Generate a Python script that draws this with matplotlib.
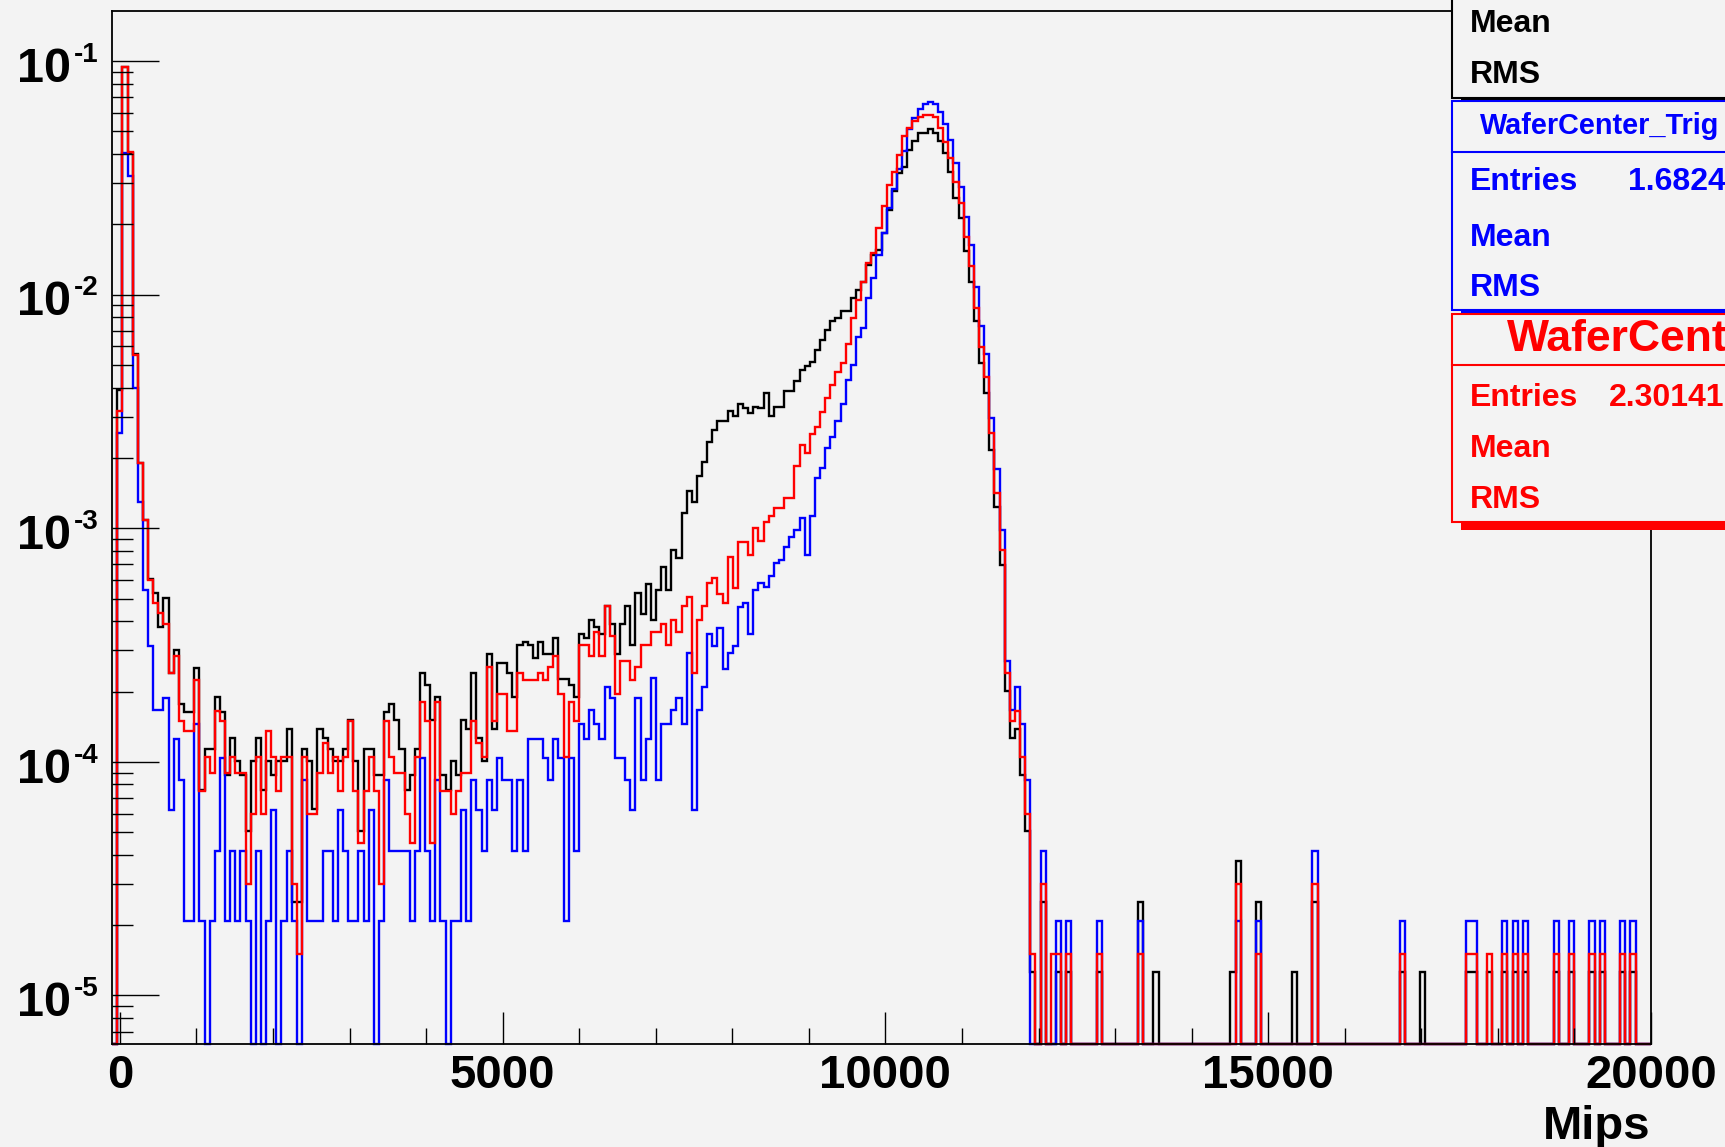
import numpy as np
import matplotlib
matplotlib.use("Agg")
import matplotlib.pyplot as plt
from matplotlib.patches import Rectangle
from matplotlib.ticker import FixedLocator, LogLocator, NullFormatter

plt.rcParams['font.family'] = ['Liberation Sans', 'DejaVu Sans']

# histogram binning: 300 bins from -100 to 20000 Mips
x_lo, x_hi, n_bins = -100, 20000, 300

# entries per bin (20 bins per row)
all_counts = [
    0, 311, 7490, 3190, 441, 151, 86, 48, 42, 30, 40, 19, 24, 14, 13, 13, 20, 6, 9, 9,
    15, 13, 7, 10, 8, 7, 4, 8, 10, 6, 8, 7, 8, 8, 11, 2, 2, 9, 8, 5,
    11, 10, 9, 8, 8, 9, 12, 8, 4, 9, 9, 7, 7, 13, 14, 12, 9, 6, 7, 9,
    19, 17, 12, 15, 7, 6, 8, 7, 12, 11, 19, 10, 8, 23, 11, 21, 21, 19, 15, 25,
    26, 25, 22, 26, 23, 23, 27, 18, 18, 17, 15, 28, 27, 32, 30, 28, 37, 31, 23, 31,
    37, 25, 42, 34, 46, 32, 43, 54, 43, 64, 59, 92, 115, 103, 133, 152, 185, 210, 228, 228,
    251, 239, 271, 260, 247, 263, 260, 301, 240, 263, 263, 308, 308, 340, 378, 391, 407, 461, 509, 561,
    614, 630, 677, 677, 767, 833, 898, 1066, 1177, 1236, 1457, 1832, 2195, 2629, 2790, 3311, 3594, 3899, 3899, 4055,
    3899, 3594, 3206, 2648, 2056, 1688, 1216, 896, 615, 406, 301, 172, 98, 55, 16, 10, 11, 7, 4, 1,
    0, 2, 0, 0, 1, 0, 1, 0, 0, 0, 0, 0, 1, 0, 0, 0, 0, 0, 0, 0,
    2, 0, 0, 1, 0, 0, 0, 0, 0, 0, 0, 0, 0, 0, 0, 0, 0, 0, 1, 3,
    0, 0, 0, 2, 0, 0, 0, 0, 0, 0, 1, 0, 0, 0, 2, 0, 0, 0, 0, 0,
    0, 0, 0, 0, 0, 0, 0, 0, 0, 0, 0, 1, 0, 0, 0, 1, 0, 0, 0, 0,
    0, 0, 0, 0, 1, 1, 0, 0, 1, 0, 0, 1, 0, 1, 0, 1, 0, 0, 0, 0,
    0, 1, 0, 0, 1, 0, 0, 0, 1, 0, 1, 0, 0, 0, 1, 0, 1, 0, 0, 0,
]
trig_counts = [
    0, 123, 1932, 1546, 192, 62, 26, 15, 8, 8, 9, 3, 6, 4, 1, 1, 7, 1, 0, 1,
    2, 5, 1, 2, 1, 2, 1, 0, 2, 0, 1, 3, 0, 1, 2, 1, 0, 4, 1, 1,
    1, 2, 2, 1, 3, 2, 1, 1, 2, 1, 3, 0, 1, 4, 2, 2, 2, 2, 1, 2,
    5, 2, 1, 4, 1, 0, 1, 1, 3, 1, 4, 3, 2, 4, 3, 5, 4, 4, 2, 4,
    2, 6, 6, 6, 5, 4, 6, 5, 1, 5, 2, 7, 6, 8, 7, 6, 10, 9, 5, 5,
    4, 3, 9, 4, 6, 11, 4, 7, 7, 8, 9, 7, 14, 3, 8, 10, 17, 15, 18, 12,
    14, 15, 22, 23, 17, 26, 28, 27, 30, 34, 35, 40, 44, 47, 53, 37, 54, 79, 87, 106,
    118, 138, 164, 206, 241, 317, 344, 464, 567, 708, 877, 1130, 1355, 1660, 1977, 2446, 2746, 2980, 3131, 3204,
    3131, 2904, 2570, 2202, 1750, 1390, 1035, 782, 517, 353, 268, 142, 86, 47, 13, 8, 10, 7, 4, 0,
    0, 2, 0, 0, 1, 0, 1, 0, 0, 0, 0, 0, 1, 0, 0, 0, 0, 0, 0, 0,
    1, 0, 0, 0, 0, 0, 0, 0, 0, 0, 0, 0, 0, 0, 0, 0, 0, 0, 0, 1,
    0, 0, 0, 1, 0, 0, 0, 0, 0, 0, 0, 0, 0, 0, 2, 0, 0, 0, 0, 0,
    0, 0, 0, 0, 0, 0, 0, 0, 0, 0, 0, 1, 0, 0, 0, 0, 0, 0, 0, 0,
    0, 0, 0, 0, 1, 1, 0, 0, 0, 0, 0, 1, 0, 1, 0, 1, 0, 0, 0, 0,
    0, 1, 0, 0, 1, 0, 0, 0, 1, 0, 1, 0, 0, 0, 1, 0, 1, 0, 0, 0,
]
cent_counts = [
    0, 211, 6307, 2727, 369, 127, 72, 40, 32, 29, 26, 16, 19, 10, 9, 9, 15, 5, 7, 6,
    11, 10, 6, 7, 6, 6, 2, 4, 7, 4, 9, 7, 5, 7, 7, 2, 1, 7, 4, 4,
    6, 8, 6, 7, 5, 7, 10, 5, 3, 5, 7, 5, 2, 10, 7, 6, 6, 4, 3, 7,
    12, 10, 3, 12, 5, 5, 4, 5, 6, 6, 10, 8, 7, 17, 10, 13, 13, 9, 9, 16,
    15, 15, 15, 16, 15, 17, 19, 13, 7, 12, 10, 21, 21, 19, 24, 19, 31, 23, 13, 18,
    18, 15, 17, 21, 21, 24, 24, 26, 21, 27, 24, 31, 34, 16, 27, 31, 39, 41, 35, 32,
    50, 37, 58, 58, 51, 67, 59, 71, 75, 81, 81, 90, 90, 123, 151, 140, 169, 181, 210, 240,
    274, 312, 341, 408, 528, 632, 757, 907, 1001, 1281, 1597, 1963, 2239, 2637, 3183, 3431, 3699, 3850, 3912, 3912,
    3832, 3431, 3009, 2554, 2029, 1649, 1180, 879, 582, 399, 297, 170, 94, 54, 16, 10, 11, 7, 4, 1,
    0, 2, 0, 1, 1, 0, 1, 0, 0, 0, 0, 0, 1, 0, 0, 0, 0, 0, 0, 0,
    1, 0, 0, 0, 0, 0, 0, 0, 0, 0, 0, 0, 0, 0, 0, 0, 0, 0, 0, 2,
    0, 0, 0, 1, 0, 0, 0, 0, 0, 0, 0, 0, 0, 0, 2, 0, 0, 0, 0, 0,
    0, 0, 0, 0, 0, 0, 0, 0, 0, 0, 0, 1, 0, 0, 0, 0, 0, 0, 0, 0,
    0, 0, 0, 0, 1, 1, 0, 0, 1, 0, 0, 1, 0, 1, 0, 1, 0, 0, 0, 0,
    0, 1, 0, 0, 1, 0, 0, 0, 1, 0, 1, 0, 0, 0, 1, 0, 1, 0, 0, 0,
]

# value of one entry in each normalised histogram
all_unit = 1.259e-5
trig_unit = 2.082e-5
cent_unit = 1.500e-5

y_lo, y_hi = 6.2e-6, 0.164
x_ticks = [0, 5000, 10000, 15000, 20000]
x_ticklabels = ["0", "5000", "10000", "15000", "20000"]
y_decades = [1e-5, 1e-4, 1e-3, 1e-2, 1e-1]
y_exponents = ["-5", "-4", "-3", "-2", "-1"]

bg = "#f3f3f3"
W, H = 1725, 1147
fig = plt.figure(figsize=(W / 100, H / 100), dpi=100, facecolor=bg)
ax = fig.add_axes([112.2 / W, 103 / H, (1651 - 112.2) / W, (1044 - 10.7) / H])
ax.set_facecolor(bg)

edges = np.linspace(x_lo, x_hi, n_bins + 1)
for counts, unit, col in [(all_counts, all_unit, "black"),
                          (trig_counts, trig_unit, "#0000ff"),
                          (cent_counts, cent_unit, "#ff0000")]:
    vals = np.maximum(np.array(counts, dtype=float) * unit, y_lo)
    ax.stairs(vals, edges, color=col, lw=1.7, baseline=None, clip_on=False)

ax.set_yscale("log")
ax.set_xlim(x_lo, x_hi)
ax.set_ylim(y_lo, y_hi)

ax.xaxis.set_major_locator(FixedLocator(x_ticks))
ax.xaxis.set_minor_locator(FixedLocator(range(1000, 20000, 1000)))
ax.set_xticklabels(x_ticklabels, fontweight="bold")
ax.tick_params(axis="x", which="major", direction="in", length=23, width=1.0,
               labelsize=34, pad=7, top=False)
ax.tick_params(axis="x", which="minor", direction="in", length=11.5, width=1.0, top=False)
ax.yaxis.set_major_locator(LogLocator(base=10, numticks=12))
ax.yaxis.set_minor_locator(LogLocator(base=10, subs=np.arange(2, 10), numticks=12))
ax.yaxis.set_major_formatter(NullFormatter())
ax.yaxis.set_minor_formatter(NullFormatter())
ax.tick_params(axis="y", which="major", direction="in", length=34, width=1.0, right=False)
ax.tick_params(axis="y", which="minor", direction="in", length=15, width=1.0, right=False)
for s in ax.spines.values():
    s.set_linewidth(1.3)

# ROOT style 10^n labels
for yv, ex in zip(y_decades, y_exponents):
    ax.annotate("10", xy=(0, yv), xycoords=("axes fraction", "data"), xytext=(-29.5, -6),
                textcoords="offset points", ha="right", va="center", fontsize=35,
                fontweight="bold", annotation_clip=False)
    ax.annotate(ex, xy=(0, yv), xycoords=("axes fraction", "data"), xytext=(-27.5, 4.5),
                textcoords="offset points", ha="left", va="center", fontsize=20,
                fontweight="bold", annotation_clip=False)

# overlay in pixel units for the axis title and stat boxes
ov = fig.add_axes([0, 0, 1, 1], zorder=5)
ov.set_xlim(0, W); ov.set_ylim(H, 0); ov.axis("off"); ov.patch.set_alpha(0)
ov.text(1650, 1139, "Mips", ha="right", va="baseline", fontsize=34, fontweight="bold")

boxes = [("black", -20, 97.5, None, None, ["Mean", "RMS"], [32, 83], None, None),
         ("#0000ff", 100.5, 310, "WaferCenter_Trig", 20.8, ["Entries", "Mean", "RMS"],
          [190, 246, 296], "1.6824", 1628),
         ("#ff0000", 314, 521.5, "WaferCent", 32, ["Entries", "Mean", "RMS"],
          [406, 457, 508], "2.30141", 1609)]
for col, top, bot, title, tsize, names, bases, entries, ex in boxes:
    ov.add_patch(Rectangle((1460.5, top + 8.3), 400, bot - top, fc=col, ec="none"))
    ov.add_patch(Rectangle((1452, top), 400, bot - top, fc=bg, ec=col, lw=1.5))
    if title:
        div = top + 51
        ov.plot([1452, W], [div, div], color=col, lw=1.5)
        tx = 1480 if tsize < 25 else 1507
        ov.text(tx, (top + div) / 2 + (8 if tsize < 25 else 11.5), title, color=col,
                fontsize=tsize, fontweight="bold", va="baseline")
    for nm, b in zip(names, bases):
        ov.text(1470, b, nm, color=col, fontsize=23, fontweight="bold", va="baseline")
    if entries:
        ov.text(ex, bases[0], entries, color=col, fontsize=23, fontweight="bold", va="baseline")

fig.savefig("out.png", dpi=100, facecolor=bg)
